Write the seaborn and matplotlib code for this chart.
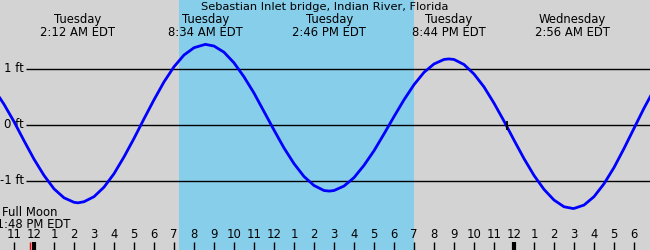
import matplotlib
matplotlib.use("Agg")
import matplotlib.pyplot as plt
import seaborn as sns
import pandas as pd

# ---- data (hours from Tuesday 00:00 EDT, heights in ft) ----
tide_hours = [-2, -1.5, -1, -0.5, 0, 0.5, 1, 1.5, 2, 2.2,
              2.5, 3, 3.5, 4, 4.5, 5, 5.5, 6, 6.5, 7, 7.5, 8, 8.567,
              9, 9.5, 10, 10.5, 11, 11.5, 12, 12.5, 13, 13.5, 14, 14.5, 14.767,
              15, 15.5, 16, 16.5, 17, 17.5, 18, 18.5, 19, 19.5, 20, 20.5, 20.733,
              21, 21.5, 22, 22.5, 23, 23.5, 24, 24.5, 25, 25.5, 26, 26.5, 26.933,
              27, 27.5, 28, 28.5, 29, 29.5, 30, 30.5, 31]
tide_heights = [0.64, 0.37, 0.06, -0.28, -0.61, -0.90, -1.14, -1.30, -1.38, -1.39,
                -1.37, -1.28, -1.11, -0.87, -0.57, -0.24, 0.11, 0.45, 0.77, 1.04, 1.25, 1.38, 1.44,
                1.41, 1.30, 1.11, 0.86, 0.57, 0.24, -0.09, -0.41, -0.69, -0.92, -1.08, -1.17, -1.18,
                -1.17, -1.09, -0.94, -0.72, -0.46, -0.16, 0.15, 0.45, 0.72, 0.94, 1.09, 1.17, 1.18,
                1.17, 1.08, 0.91, 0.68, 0.39, 0.07, -0.27, -0.60, -0.90, -1.15, -1.34, -1.46, -1.49,
                -1.49, -1.43, -1.28, -1.05, -0.76, -0.42, -0.06, 0.30, 0.63]

extreme_hours = [2.2, 8.567, 14.767, 20.733, 26.933]
extreme_days = ["Tuesday", "Tuesday", "Tuesday", "Tuesday", "Wednesday"]
extreme_times = ["2:12 AM EDT", "8:34 AM EDT", "2:46 PM EDT", "8:44 PM EDT", "2:56 AM EDT"]

title = "Sebastian Inlet bridge, Indian River, Florida"
sunrise_hour = 7.25
sunset_hour = 19.0
level_values = [1, 0, -1]
level_labels = ["1 ft", "0 ft", "-1 ft"]

tick_hours = list(range(-1, 31))
tick_labels = ["11", "12", "1", "2", "3", "4", "5", "6", "7", "8", "9", "10", "11",
               "12", "1", "2", "3", "4", "5", "6", "7", "8", "9", "10", "11",
               "12", "1", "2", "3", "4", "5", "6"]
midnight_hours = [0, 24]
moon_hour = -0.2
moon_label = ["Full Moon", "11:48 PM EDT"]
now_hour = 23.65

# ---- layout helpers (pixel -> data) ----
X0, PXH = 34.0, 20.0          # pixel x of hour 0, pixels per hour
Y0, PXF = 125.0, 56.0         # pixel y of 0 ft, pixels per ft
W, H = 650, 250
FS = 8.4


def hx(px):
    return (px - X0) / PXH


def fy(py):
    return (Y0 - py) / PXF


plt.rcParams["font.family"] = ["DejaVu Sans"]
fig = plt.figure(figsize=(6.5, 2.5), dpi=100)
fig.patch.set_facecolor("#d3d3d3")
ax = fig.add_axes([0, 0, 1, 1])
ax.set_facecolor("#d3d3d3")

ax.axvspan(sunrise_hour, sunset_hour, color="#87ceeb", lw=0, zorder=0)

# reference levels
ax.hlines(level_values, hx(26), hx(W), colors="black", lw=1, zorder=1)
for v, lab in zip(level_values, level_labels):
    ax.text(hx(24), v, lab, ha="right", va="center", fontsize=FS, color="black")

df = pd.DataFrame({"hour": tide_hours, "height": tide_heights})
sns.lineplot(data=df, x="hour", y="height", ax=ax, color="#0000ff", lw=2.0, zorder=3)
ax.set_xlim(hx(0), hx(W))
ax.set_ylim(fy(H), fy(0))
ax.axis("off")

ax.vlines([now_hour], fy(129.5), fy(120.5), colors="black", lw=1.3, zorder=4)

# headers
ax.text(hx(325), fy(7), title, ha="center", va="center", fontsize=8.2)
for h, d, t in zip(extreme_hours, extreme_days, extreme_times):
    ax.text(h, fy(20), d, ha="center", va="center", fontsize=FS)
    ax.text(h, fy(32), t, ha="center", va="center", fontsize=FS)

# hour ticks
ax.vlines(tick_hours, fy(250), fy(242), colors="black", lw=1, zorder=4)
for h, lab in zip(tick_hours, tick_labels):
    ax.text(h, fy(235), lab, ha="center", va="center", fontsize=FS)
ax.vlines(midnight_hours, fy(250), fy(242), colors="black", lw=3, zorder=4)
ax.vlines([moon_hour], fy(250), fy(242), colors="red", lw=1, zorder=5)

ax.text(moon_hour, fy(212), moon_label[0], ha="center", va="center", fontsize=FS)
ax.text(moon_hour, fy(224), moon_label[1], ha="center", va="center", fontsize=FS)

fig.savefig("out.png", dpi=100, facecolor=fig.get_facecolor())
